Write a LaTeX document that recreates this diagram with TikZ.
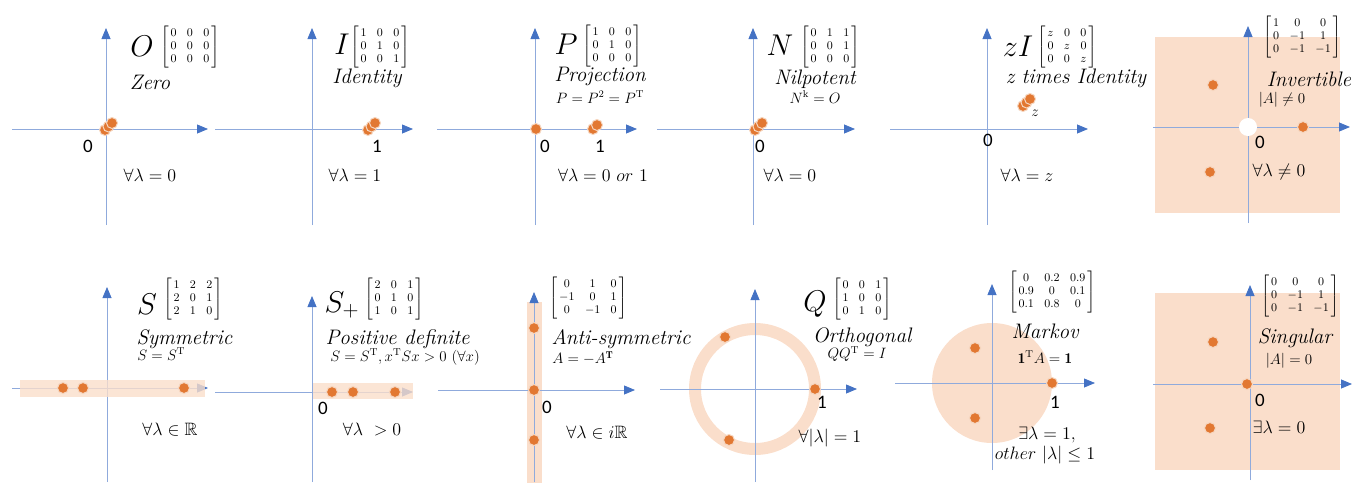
\RequirePackage{fix-cm}
\documentclass[tikz,border=0pt]{standalone}
\usepackage{amsmath,amssymb}
\usepackage{fontspec}
\newfontfamily\tickfont{Carlito}
\usetikzlibrary{arrows.meta}

\definecolor{axisline}{RGB}{143,170,220}
\definecolor{axisblue}{RGB}{68,114,196}
\definecolor{dotorange}{RGB}{226,120,50}
\definecolor{shadecol}{RGB}{250,222,203}

\newcommand{\evmat}[1]{$\left[\begin{array}{@{\,}c@{\hspace{8pt}}c@{\hspace{8pt}}c@{\,}}#1\end{array}\right]$}

\tikzset{
  axis/.style={draw=axisline, line width=0.8pt, -{Triangle[length=11pt,width=9pt,color=axisblue]}},
  dot/.style={circle, fill=dotorange, draw=white!70!dotorange, line width=1pt, minimum size=11pt, inner sep=0pt},
  shadebox/.style={fill=shadecol},
  bigsym/.style={font=\fontsize{24}{26}\selectfont, scale=1.25},
  mat/.style={inner sep=0pt, font=\fontsize{9}{10}\selectfont, scale=1.3},
  kind/.style={font=\fontsize{21}{24}\selectfont\itshape},
  rulefor/.style={font=\fontsize{12}{14}\selectfont, scale=1.25},
  eig/.style={font=\fontsize{14}{16}\selectfont, scale=1.28},
  tick/.style={font=\tickfont\fontsize{19}{21}\selectfont},
}

\begin{document}
\begin{tikzpicture}[x=1pt, y=-1pt]
  \useasboundingbox (0,0) rectangle (1354,483);

  % Zero
  \draw[axis] (106,225) -- (106,28);
  \draw[axis] (12,129) -- (208,129);
  \node[dot] (o1) at (105,130) {};
  \node[dot] (o2) at (108.5,126.5) {};
  \node[dot] (o3) at (112,123) {};
  \node[bigsym] (zsym) at (142,46) {$O$};
  \node[mat] (zmat) at (190,47) {\evmat{0&0&0\\0&0&0\\0&0&0}};
  \node[kind] (zname) at (150,82) {Zero};
  \node[tick] (zzero) at (88,146) {0};
  \node[eig] (zeig) at (150,175) {$\forall\lambda=0$};

  % Identity
  \draw[axis] (312,225) -- (312,28);
  \draw[axis] (215,129) -- (413,129);
  \node[dot] (i1) at (368,130) {};
  \node[dot] (i2) at (371.5,126.5) {};
  \node[dot] (i3) at (375,123) {};
  \node[bigsym] (isym) at (342,44) {$I$};
  \node[mat] (imat) at (380,47) {\evmat{1&0&0\\0&1&0\\0&0&1}};
  \node[kind] (iname) at (367,78) {Identity};
  \node[tick] (ione) at (377,146) {1};
  \node[eig] (ieig) at (355,175) {$\forall\lambda=1$};

  % Projection
  \draw[axis] (535,225) -- (535,28);
  \draw[axis] (437,129) -- (637,129);
  \node[dot] (p0) at (536,129) {};
  \node[dot] (p1) at (593,129) {};
  \node[dot] (p2) at (597,125) {};
  \node[bigsym] (psym) at (566,44) {$P$};
  \node[mat] (pmat) at (612,46) {\evmat{1&0&0\\0&1&0\\0&0&0}};
  \node[kind] (pname) at (600,76) {Projection};
  \node[rulefor] (prule) at (600,97) {$P=P^2=P^{\mathrm{T}}$};
  \node[tick] (pzero) at (545,146) {0};
  \node[tick] (pone) at (600,146) {1};
  \node[eig] (peig) at (603,175) {$\forall\lambda=0\ or\ 1$};

  % Nilpotent
  \draw[axis] (753,225) -- (753,28);
  \draw[axis] (657,129) -- (855,129);
  \node[dot] (n1) at (755,130) {};
  \node[dot] (n2) at (758.5,126.5) {};
  \node[dot] (n3) at (762,123) {};
  \node[bigsym] (nsym) at (780,45) {$N$};
  \node[mat] (nmat) at (830,47) {\evmat{0&1&1\\0&0&1\\0&0&0}};
  \node[kind] (nname) at (815,79) {Nilpotent};
  \node[rulefor] (nrule) at (815,97) {$N^{\mathrm{k}}=O$};
  \node[tick] (nzero) at (760,146) {0};
  \node[eig] (neig) at (790,175) {$\forall\lambda=0$};

  % z times Identity
  \draw[axis] (987,225) -- (987,28);
  \draw[axis] (890,129) -- (1088,129);
  \node[dot] (s1) at (1023,106) {};
  \node[dot] (s2) at (1026.5,102.5) {};
  \node[dot] (s3) at (1030,99) {};
  \node[rulefor] (szlab) at (1035,113) {$z$};
  \node[bigsym] (ssym) at (1018,46) {$zI$};
  \node[mat] (smat) at (1067,47) {\evmat{z&0&0\\0&z&0\\0&0&z}};
  \node[kind] (sname) at (1076,78) {z times Identity};
  \node[tick] (szero) at (988,140) {0};
  \node[eig] (seig) at (1027,175) {$\forall\lambda=z$};

  % Invertible
  \fill[shadebox] (1155,37) rectangle (1340,213);
  \draw[axis] (1248,223) -- (1248,26);
  \draw[axis] (1153,127) -- (1350,127);
  \node[circle, fill=white, minimum size=18pt, inner sep=0pt] (vhole) at (1248,127) {};
  \node[dot] (v1) at (1213,85) {};
  \node[dot] (v2) at (1303,127) {};
  \node[dot] (v3) at (1210,172) {};
  \node[mat] (vmat) at (1302,37) {\evmat{1&0&0\\0&-1&1\\0&-1&-1}};
  \node[kind] (vname) at (1309,79) {Invertible};
  \node[rulefor] (vrule) at (1282,100) {$|A|\neq0$};
  \node[tick] (vzero) at (1260,142) {0};
  \node[eig] (veig) at (1279,172) {$\forall\lambda\neq0$};

  % Symmetric
  \draw[axis] (107,482) -- (107,287);
  \draw[axis] (12,388) -- (208,388);
  \fill[shadebox, opacity=0.8] (20,380) rectangle (205,397);
  \node[dot] (y1) at (63,388) {};
  \node[dot] (y2) at (83,388) {};
  \node[dot] (y3) at (184,388) {};
  \node[bigsym] (ysym) at (147,304) {$S$};
  \node[mat] (ymat) at (193,299) {\evmat{1&2&2\\2&0&1\\2&1&0}};
  \node[kind, anchor=west] (yname) at (133,339) {Symmetric};
  \node[rulefor, anchor=west] (yrule) at (133,354) {$S=S^{\mathrm{T}}$};
  \node[eig] (yeig) at (170,430) {$\forall\lambda\in\mathbb{R}$};

  % Positive definite
  \draw[axis] (312,482) -- (312,296);
  \draw[axis] (215,392) -- (413,392);
  \fill[shadebox, opacity=0.8] (313,383) rectangle (413,399);
  \node[dot] (d1) at (332,392) {};
  \node[dot] (d2) at (353,392) {};
  \node[dot] (d3) at (395,392) {};
  \node[bigsym] (dsym) at (342,305) {$S_+$};
  \node[mat] (dmat) at (394,299) {\evmat{2&0&1\\0&1&0\\1&0&1}};
  \node[kind, anchor=west] (dname) at (322,339) {Positive definite};
  \node[rulefor] (drule) at (405,357) {$S=S^{\mathrm{T}},x^{\mathrm{T}}Sx>0\ (\forall x)$};
  \node[tick] (dzero) at (323,408) {0};
  \node[eig] (deig) at (372,430) {$\forall\lambda\ >0$};

  % Anti-symmetric
  \fill[shadebox] (527,302) rectangle (542,483);
  \draw[axis] (534,482) -- (534,292);
  \draw[axis] (438,390) -- (635,390);
  \node[dot] (a1) at (534,328) {};
  \node[dot] (a2) at (534,390) {};
  \node[dot] (a3) at (534,440) {};
  \node[mat] (amat) at (588,298) {\evmat{0&1&0\\-1&0&1\\0&-1&0}};
  \node[kind, anchor=west] (aname) at (548,339) {Anti-symmetric};
  \node[rulefor, anchor=west] (arule) at (548,358) {$A=-A^{\mathbf{T}}$};
  \node[tick] (azero) at (547,407) {0};
  \node[eig] (aeig) at (597,433) {$\forall\lambda\in i\mathbb{R}$};

  % Orthogonal
  \draw[shadecol, line width=12pt] (755,389) circle (60);
  \draw[axis] (755,482) -- (755,289);
  \draw[axis] (660,389) -- (857,389);
  \node[dot] (q1) at (725,337) {};
  \node[dot] (q2) at (815,389) {};
  \node[dot] (q3) at (729,440) {};
  \node[bigsym] (qsym) at (815,304) {$Q$};
  \node[mat] (qmat) at (862,299) {\evmat{0&0&1\\1&0&0\\0&1&0}};
  \node[kind] (qname) at (862,337) {Orthogonal};
  \node[rulefor] (qrule) at (857,354) {$QQ^{\mathrm{T}}=I$};
  \node[tick] (qone) at (822,402) {1};
  \node[eig] (qeig) at (830,438) {$\forall|\lambda|=1$};

  % Markov
  \fill[shadebox] (992,383) circle (60);
  \draw[axis] (992,470) -- (992,284);
  \draw[axis] (895,383) -- (1095,383);
  \node[dot] (m1) at (975,348) {};
  \node[dot] (m2) at (1052,383) {};
  \node[dot] (m3) at (975,418) {};
  \node[mat] (mmat) at (1052,292) {\evmat{0&0.2&0.9\\0.9&0&0.1\\0.1&0.8&0}};
  \node[kind] (mname) at (1045,331) {Markov};
  \node[rulefor] (mrule) at (1045,357) {$\mathbf{1}^{\mathrm{T}}A=\mathbf{1}$};
  \node[tick] (mone) at (1055,402) {1};
  \node[eig] (meig) at (1047,435) {$\exists\lambda=1,$};
  \node[eig] (mother) at (1045,455) {$other\ |\lambda|\le1$};

  % Singular
  \fill[shadebox] (1155,293) rectangle (1340,470);
  \draw[axis] (1250,480) -- (1250,285);
  \draw[axis] (1153,384) -- (1352,384);
  \node[dot] (g1) at (1213,342) {};
  \node[dot] (g2) at (1247,384) {};
  \node[dot] (g3) at (1210,428) {};
  \node[mat] (gmat) at (1300,296) {\evmat{0&0&0\\0&-1&1\\0&-1&-1}};
  \node[kind] (gname) at (1295,338) {Singular};
  \node[rulefor] (grule) at (1289,361) {$|A|=0$};
  \node[tick] (gzero) at (1260,400) {0};
  \node[eig] (geig) at (1279,427) {$\exists\lambda=0$};
\end{tikzpicture}
\end{document}
